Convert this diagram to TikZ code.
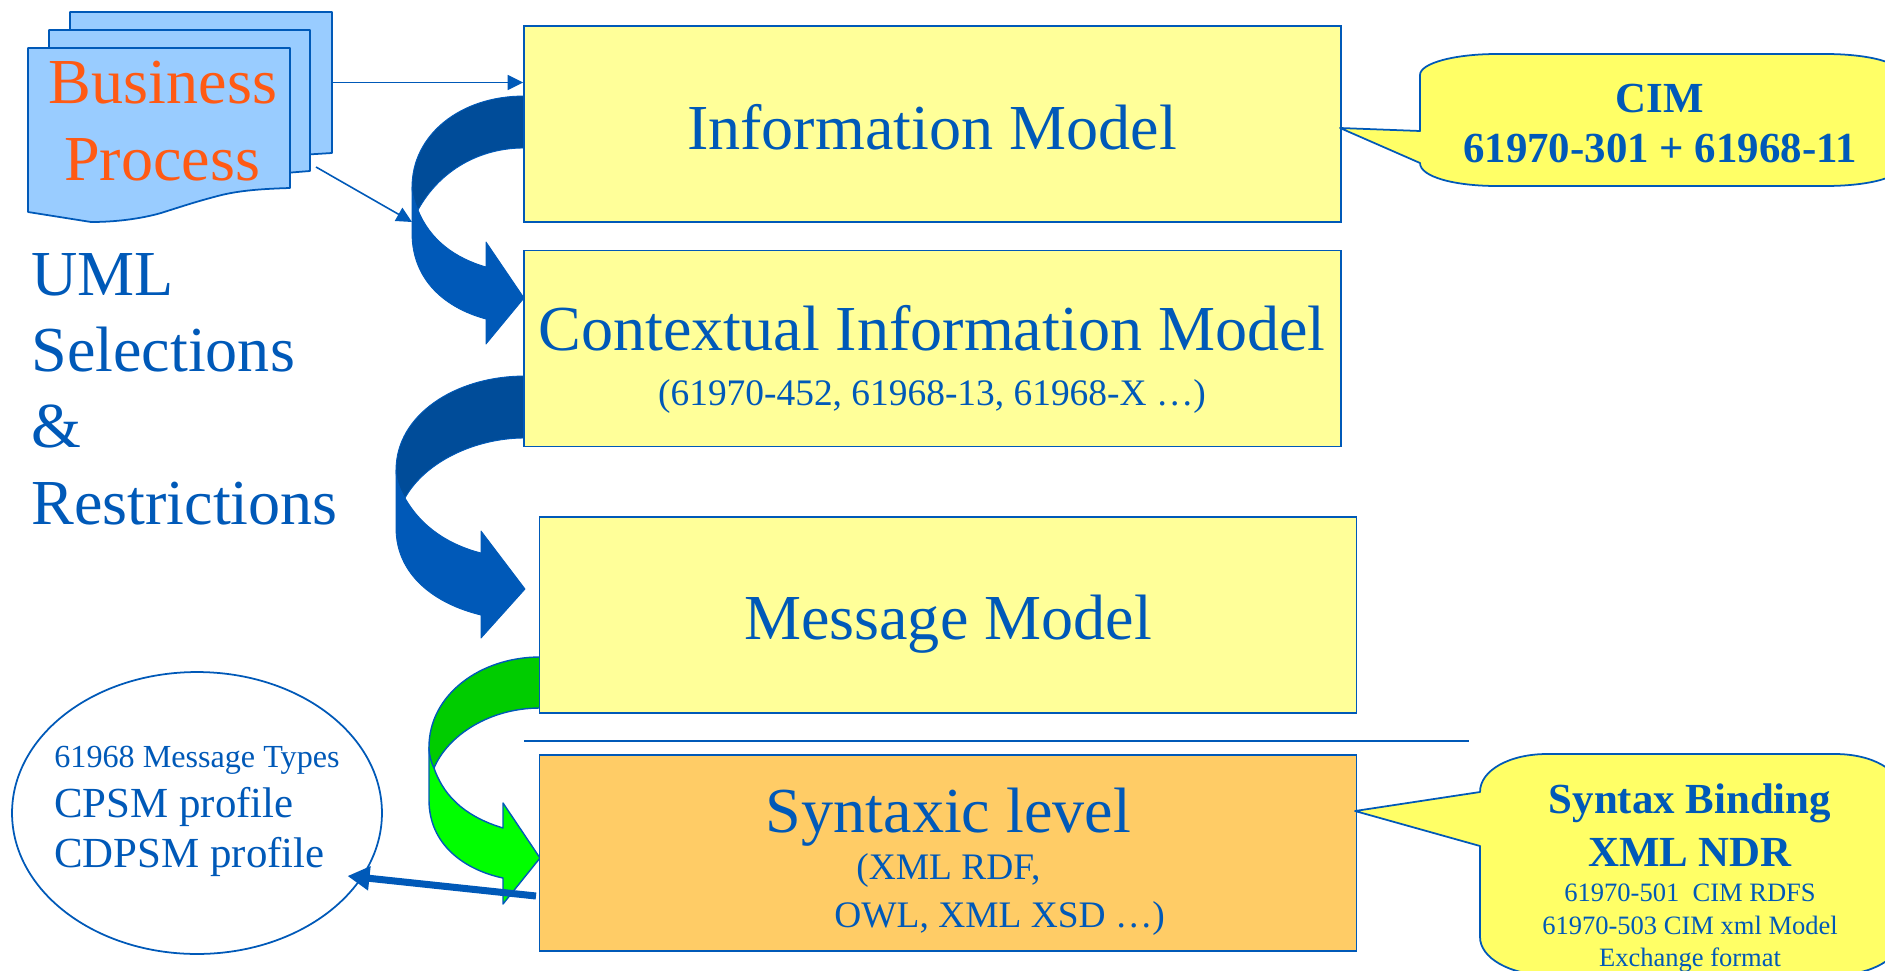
\documentclass[tikz,border=0pt]{standalone}
\usepackage{xcolor}
\usepackage{fontspec}
\setmainfont{Liberation Serif}
\usetikzlibrary{arrows.meta,shapes.geometric}
\definecolor{ink}{HTML}{0059B8}
\definecolor{inkdark}{HTML}{004C99}
\definecolor{flame}{HTML}{FF5A14}
\definecolor{paper}{HTML}{99CCFF}
\definecolor{modelfill}{HTML}{FFFF99}
\definecolor{syntaxfill}{HTML}{FFCC66}
\definecolor{bubblefill}{HTML}{FFFF66}
\definecolor{greendark}{HTML}{00CC00}
\definecolor{greenlight}{HTML}{00FF00}
\tikzset{
  modelbox/.style={draw=ink, fill=modelfill, line width=1pt, inner sep=0pt, minimum width=16.34cm, minimum height=3.92cm},
  docpage/.style={draw=ink, fill=paper, line width=1pt, line join=round},
  bubble/.style={draw=ink, fill=bubblefill, line width=1pt, line join=round},
  flow/.style={-{Triangle[length=3.1mm,width=3mm]}, draw=ink, line width=0.9pt},
  heavyflow/.style={-{Triangle[length=4.4mm,width=4.6mm]}, draw=ink, line width=4pt},
  bandtop/.style={draw=ink, fill=inkdark, line width=0.5pt, line join=round},
  bandlow/.style={draw=ink, fill=ink, line width=0.5pt, line join=round},
  bandtopgreen/.style={draw=ink, fill=greendark, line width=0.8pt, line join=round},
  bandlowgreen/.style={draw=ink, fill=greenlight, line width=0.8pt, line join=round},
  lab/.style={text=ink, anchor=base, inner sep=0pt, font=\fontsize{36.5}{40}\selectfont},
  leftlab/.style={lab, anchor=base west},
  sublab/.style={lab, font=\fontsize{21.3}{25}\selectfont},
  midlab/.style={leftlab, font=\fontsize{24.4}{28}\selectfont},
  boldlab/.style={lab, font=\fontsize{24.4}{28}\selectfont\bfseries},
  finelab/.style={lab, font=\fontsize{15.1}{18}\selectfont}
}
\begin{document}
\begin{tikzpicture}[x=0.02cm,y=-0.02cm]
  \clip (0,0) rectangle (1885,970);

  % stacked document
  \draw[docpage] (70,12) -- (332,12) -- (332,153) -- (300,155) -- (70,155) -- cycle;
  \draw[docpage] (49,30) -- (310,30) -- (310,171) -- (285,173) -- (49,173) -- cycle;
  \draw[docpage] (28,48) -- (290,48) -- (290,188) .. controls (257,189) and (235,191) .. (214,197)
    .. controls (195,202) and (180,207) .. (161,213) .. controls (140,219) and (115,222) .. (91,222) -- (28,212) -- cycle;
  \node[lab,text=flame] (bizfirst) at (163,103) {Business};
  \node[lab,text=flame] (bizsecond) at (162,180) {Process};

  \node[leftlab] (umlone) at (31,295) {UML};
  \node[leftlab] (umltwo) at (31,371) {Selections};
  \node[leftlab] (umlthree) at (31,447) {\&};
  \node[leftlab] (umlfour) at (31,524) {Restrictions};

  % bent arrows between the levels
  \draw[bandlow] (412,187) -- (412,233) .. controls (412,280) and (445,308) .. (486,319) -- (486,344) -- (524,298)
    -- (486,242) -- (486,267) .. controls (455,258) and (430,240) .. (418,210) -- cycle;
  \draw[bandtop] (524,96) .. controls (460,96) and (412,135) .. (412,187) .. controls (412,195) and (415,203) .. (418,210)
    .. controls (440,170) and (480,148) .. (524,148) -- cycle;

  \draw[bandlow] (396,470) -- (396,528) .. controls (396,575) and (435,604) .. (481,615) -- (481,638) -- (525,589)
    -- (481,531) -- (481,553) .. controls (450,545) and (422,528) .. (405,498) -- cycle;
  \draw[bandtop] (525,376) .. controls (455,376) and (396,415) .. (396,470) .. controls (396,480) and (400,490) .. (405,498)
    .. controls (425,462) and (475,438) .. (525,438) -- cycle;

  \draw[bandlowgreen] (429,747) -- (429,800) .. controls (429,845) and (465,870) .. (503,878) -- (503,904) -- (540,858)
    -- (503,803) -- (503,828) .. controls (470,818) and (445,800) .. (434,768) -- cycle;
  \draw[bandtopgreen] (540,657) .. controls (480,657) and (429,695) .. (429,747) .. controls (429,755) and (431,762) .. (434,768)
    .. controls (448,735) and (490,708) .. (540,708) -- cycle;

  % model levels
  \node[modelbox] (infobox) at (932.5,124) {};
  \node[modelbox] (contextbox) at (932.5,348.5) {};
  \node[modelbox] (messagebox) at (948,615) {};
  \node[modelbox,fill=syntaxfill] (syntaxbox) at (948,853) {};
  \draw[draw=ink, line width=1pt] (524,741) -- (1469,741);

  \node[lab] (infotext) at (932,149) {Information Model};
  \node[lab] (contexttext) at (932,350) {Contextual Information Model};
  \node[sublab] (contextsub) at (932,405) {(61970-452, 61968-13, 61968-X …)};
  \node[lab] (messagetext) at (948,639) {Message Model};
  \node[lab] (syntaxtext) at (948.5,832) {Syntaxic level};
  \node[sublab,anchor=base west] (syntaxsubone) at (856,879) {(XML RDF,};
  \node[sublab,anchor=base west] (syntaxsubtwo) at (834,927) {OWL, XML XSD …)};

  % arrows out of the document
  \coordinate (bizout) at (332,82.5);
  \coordinate (bizcorner) at (316,167);
  \coordinate (bendtop) at (412,222);
  \draw[flow] (bizout) -- (bizout -| infobox.west);
  \draw[flow] (bizcorner) -- (bendtop);

  % profile bubble
  \node[draw=ink, fill=white, line width=1pt, ellipse, inner sep=0pt, minimum width=7.4cm, minimum height=5.64cm] (profiles) at (197,813) {};
  \node[sublab,anchor=base west,font=\fontsize{18.3}{22}\selectfont] (profilesone) at (54,767) {61968 Message Types};
  \node[midlab] (profilestwo) at (54,817) {CPSM profile};
  \node[midlab] (profilesthree) at (54,867) {CDPSM profile};
  \coordinate (heavystart) at (536,896);
  \coordinate (heavyend) at (347.5,876);
  \draw[heavyflow] (heavystart) -- (heavyend);

  % call-outs on the right
  \draw[bubble] (1340,128) -- (1420,131) -- (1420,75) .. controls (1420,63) and (1455,54) .. (1497,54) -- (1825,54)
    .. controls (1870,54) and (1902,63) .. (1902,75) -- (1902,165) .. controls (1902,177) and (1870,186) .. (1825,186)
    -- (1497,186) .. controls (1455,186) and (1420,177) .. (1420,163) -- cycle;
  \node[boldlab] (cimone) at (1660,112) {CIM};
  \node[boldlab] (cimtwo) at (1660,162) {61970-301 + 61968-11};

  \draw[bubble] (1355,811) -- (1480,792) .. controls (1480,770) and (1510,754) .. (1547,754) -- (1835,754)
    .. controls (1872,754) and (1901,770) .. (1901,792) -- (1901,937) .. controls (1901,958) and (1872,975) .. (1835,975)
    -- (1547,975) .. controls (1510,975) and (1480,958) .. (1480,937) -- (1480,846) -- cycle;
  \node[boldlab] (bindone) at (1690,813) {Syntax Binding};
  \node[boldlab] (bindtwo) at (1690,866) {XML NDR};
  \node[finelab] (bindthree) at (1690,901) {61970-501~~CIM RDFS};
  \node[finelab] (bindfour) at (1690,934) {61970-503 CIM xml Model};
  \node[finelab] (bindfive) at (1690,966) {Exchange format};
\end{tikzpicture}
\end{document}
